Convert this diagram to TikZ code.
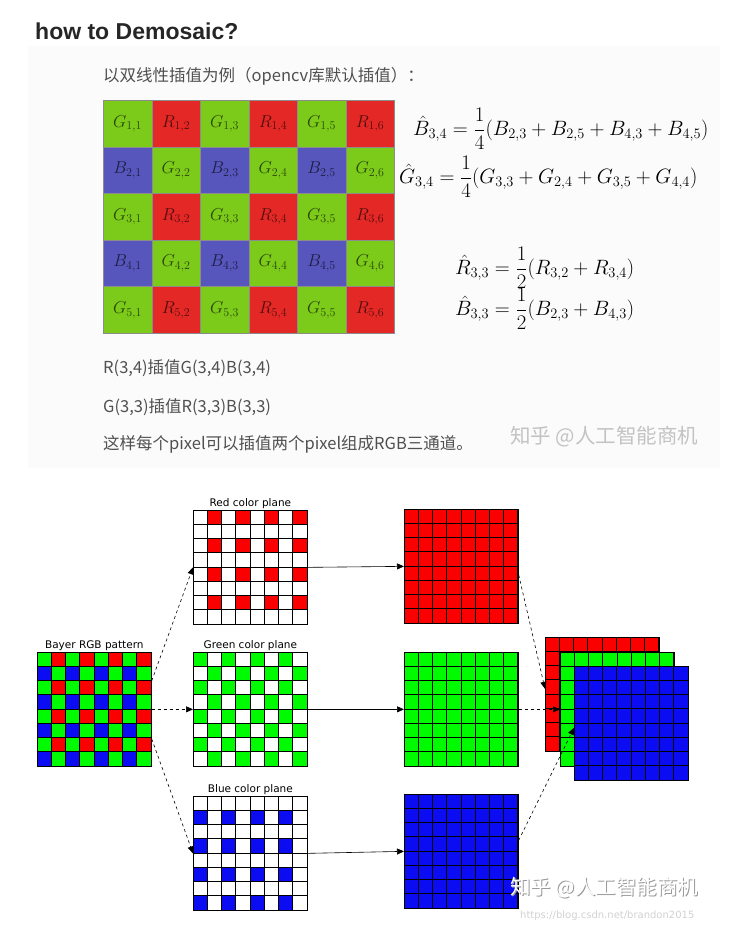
\documentclass[tikz,border=0pt]{standalone}
\usepackage{fontspec}
\usepackage{xcolor}
\usepackage{tikz}
\usetikzlibrary{arrows.meta,positioning}
\setsansfont{DejaVu Sans}
\newfontfamily\cjk{Noto Sans CJK SC}
\newfontfamily\headfont{Liberation Sans}
\definecolor{tgreen}{RGB}{124,202,26}
\definecolor{tred}{RGB}{228,40,38}
\definecolor{tblue}{RGB}{86,86,188}
\definecolor{pgreen}{RGB}{0,250,0}
\definecolor{pred}{RGB}{250,0,0}
\definecolor{pblue}{RGB}{12,12,242}
\definecolor{txtgray}{RGB}{80,80,80}
\definecolor{markgray}{RGB}{195,195,195}

\begin{document}
\begin{tikzpicture}[x=1pt,y=-1pt,
  tcell/.style={draw=black!45, line width=0.6pt, minimum width=48.5pt, minimum height=46.6pt, inner sep=0pt, anchor=north west, font=\fontsize{17}{20}\selectfont},
  plane/.style={draw=black!70, line width=0.7pt, minimum width=114pt, minimum height=114pt, inner sep=0pt, anchor=north west},
  cell/.style={draw=black, line width=1pt},
  planelabel/.style={font=\sffamily\fontsize{10.5}{12}\selectfont, inner sep=1pt},
  cnline/.style={font=\cjk\fontsize{16.5}{19}\selectfont, text=txtgray, anchor=west, inner sep=0pt},
  eqn/.style={font=\fontsize{21}{25}\selectfont, anchor=west, inner sep=0pt},
  solidarrow/.style={-{Triangle[length=7pt,width=6pt]}, line width=0.6pt},
  dasharrow/.style={solidarrow, dash pattern=on 3pt off 3pt}]
\useasboundingbox (0,0) rectangle (743,931);
\fill[black!1.5] (28,46) rectangle (720,468);

% upper half
\node[anchor=west, inner sep=0pt, font=\headfont\bfseries\fontsize{23}{27}\selectfont, text=black!85] (title) at (35,31) {how to Demosaic?};
\node[cnline] (intro) at (103,76) {以双线性插值为例（opencv库默认插值）：};

\foreach \r in {1,...,5}{
  \foreach \c in {1,...,6}{
    \ifodd\r\relax \ifodd\c\relax \def\cc{tgreen}\def\ll{G}\else\def\cc{tred}\def\ll{R}\fi
    \else \ifodd\c\relax \def\cc{tblue}\def\ll{B}\else\def\cc{tgreen}\def\ll{G}\fi\fi
    \node[tcell, fill=\cc, text=\cc!35!black] (g-\r-\c) at ({103+(\c-1)*48.5},{100+(\r-1)*46.6}) {$\ll_{\r,\c}$};
  }
}

\node[eqn] (eqb34) at (413,129) {$\displaystyle \hat{B}_{3,4}=\frac{1}{4}(B_{2,3}+B_{2,5}+B_{4,3}+B_{4,5})$};
\node[eqn] (eqg34) at (399,177) {$\displaystyle \hat{G}_{3,4}=\frac{1}{4}(G_{3,3}+G_{2,4}+G_{3,5}+G_{4,4})$};
\node[eqn] (eqr33) at (455,268) {$\displaystyle \hat{R}_{3,3}=\frac{1}{2}(R_{3,2}+R_{3,4})$};
\node[eqn] (eqb33) at (455,309) {$\displaystyle \hat{B}_{3,3}=\frac{1}{2}(B_{2,3}+B_{4,3})$};

\node[cnline] (rline) at (103,368) {R(3,4)插值G(3,4)B(3,4)};
\node[cnline] (gline) at (103,407) {G(3,3)插值R(3,3)B(3,3)};
\node[cnline] (rgbline) at (103,444) {这样每个pixel可以插值两个pixel组成RGB三通道。};
\node[font=\cjk\fontsize{20.5}{24}\selectfont, text=markgray, anchor=west, inner sep=0pt] (mark1) at (510,437) {知乎 @人工智能商机};

% lower half: the planes
\node[plane] (bayer) at (37,652) {};
\node[plane] (redplane) at (193,510) {};
\node[plane] (greenplane) at (193,652) {};
\node[plane] (blueplane) at (193,796) {};
\node[plane] (bigred) at (404,509) {};
\node[plane] (biggreen) at (404,652) {};
\node[plane] (bigblue) at (404,794) {};
\node[plane] (stackred) at (545,637) {};
\node[plane] (stackgreen) at (560,652) {};
\node[plane] (stackblue) at (574,666) {};

\node[planelabel, above=0pt of bayer] (bayerlabel) {Bayer RGB pattern};
\node[planelabel, above=0pt of redplane] (redlabel) {Red color plane};
\node[planelabel, above=0pt of greenplane] (greenlabel) {Green color plane};
\node[planelabel, above=0pt of blueplane] (bluelabel) {Blue color plane};

\begin{scope}[shift={(bayer.north west)}]
\foreach \r in {1,...,8}{
  \foreach \c in {1,...,8}{
    \ifodd\r\relax \ifodd\c\relax \def\cc{pgreen}\else\def\cc{pred}\fi
    \else \ifodd\c\relax \def\cc{pblue}\else\def\cc{pgreen}\fi\fi
    \draw[cell, fill=\cc] ({(\c-1)*14.25},{(\r-1)*14.25}) rectangle ++(14.25,14.25);
  }
}
\end{scope}

\begin{scope}[shift={(redplane.north west)}]
\foreach \r in {1,...,8}{
  \foreach \c in {1,...,8}{
    \def\cc{white}
    \ifodd\r\relax \ifodd\c\relax\else\def\cc{pred}\fi\fi
    \draw[cell, fill=\cc] ({(\c-1)*14.25},{(\r-1)*14.25}) rectangle ++(14.25,14.25);
  }
}
\end{scope}

\begin{scope}[shift={(greenplane.north west)}]
\foreach \r in {1,...,8}{
  \foreach \c in {1,...,8}{
    \def\cc{white}
    \ifodd\numexpr\r+\c\relax\else\def\cc{pgreen}\fi
    \draw[cell, fill=\cc] ({(\c-1)*14.25},{(\r-1)*14.25}) rectangle ++(14.25,14.25);
  }
}
\end{scope}

\begin{scope}[shift={(blueplane.north west)}]
\foreach \r in {1,...,8}{
  \foreach \c in {1,...,8}{
    \def\cc{white}
    \ifodd\r\relax\else \ifodd\c\relax\def\cc{pblue}\fi\fi
    \draw[cell, fill=\cc] ({(\c-1)*14.25},{(\r-1)*14.25}) rectangle ++(14.25,14.25);
  }
}
\end{scope}

% full planes
\foreach \pl/\cc in {bigred/pred, biggreen/pgreen, bigblue/pblue, stackred/pred, stackgreen/pgreen, stackblue/pblue}{
  \begin{scope}[shift={(\pl.north west)}]
  \fill[\cc] (0,114) rectangle (114,0);
  \draw[cell] (0,114) grid[xstep=14.25pt, ystep=14.25pt] (114,0);
  \draw[cell] (0,114) rectangle (114,0);
  \end{scope}
}

% connectors
\draw[dasharrow] ([yshift=28.5pt]bayer.east) -- (redplane.west);
\draw[dasharrow] (bayer.east) -- (greenplane.west);
\draw[dasharrow] ([yshift=-29.5pt]bayer.east) -- (blueplane.west);
\draw[solidarrow] (redplane.east) -- (bigred.west);
\draw[solidarrow] (greenplane.east) -- (biggreen.west);
\draw[solidarrow] (blueplane.east) -- (bigblue.west);
\draw[dasharrow] ([yshift=-8.5pt]bigred.east) -- ([yshift=5.5pt]stackred.west);
\draw[dasharrow] (biggreen.east) -- (stackgreen.west);
\draw[dasharrow] ([yshift=11pt]bigblue.east) -- ([yshift=-4.5pt]stackblue.west);

% watermark
\node[font=\cjk\fontsize{20.5}{24}\selectfont, text=black!40, anchor=west, inner sep=0pt] at (511,889) {知乎 @人工智能商机};
\node[font=\cjk\fontsize{20.5}{24}\selectfont, text=white, anchor=west, inner sep=0pt] (mark2) at (510,888) {知乎 @人工智能商机};
\node[font=\sffamily\fontsize{10}{12}\selectfont, text=black!18, anchor=west, inner sep=0pt] (url) at (520,916) {https://blog.csdn.net/brandon2015};
\end{tikzpicture}
\end{document}
